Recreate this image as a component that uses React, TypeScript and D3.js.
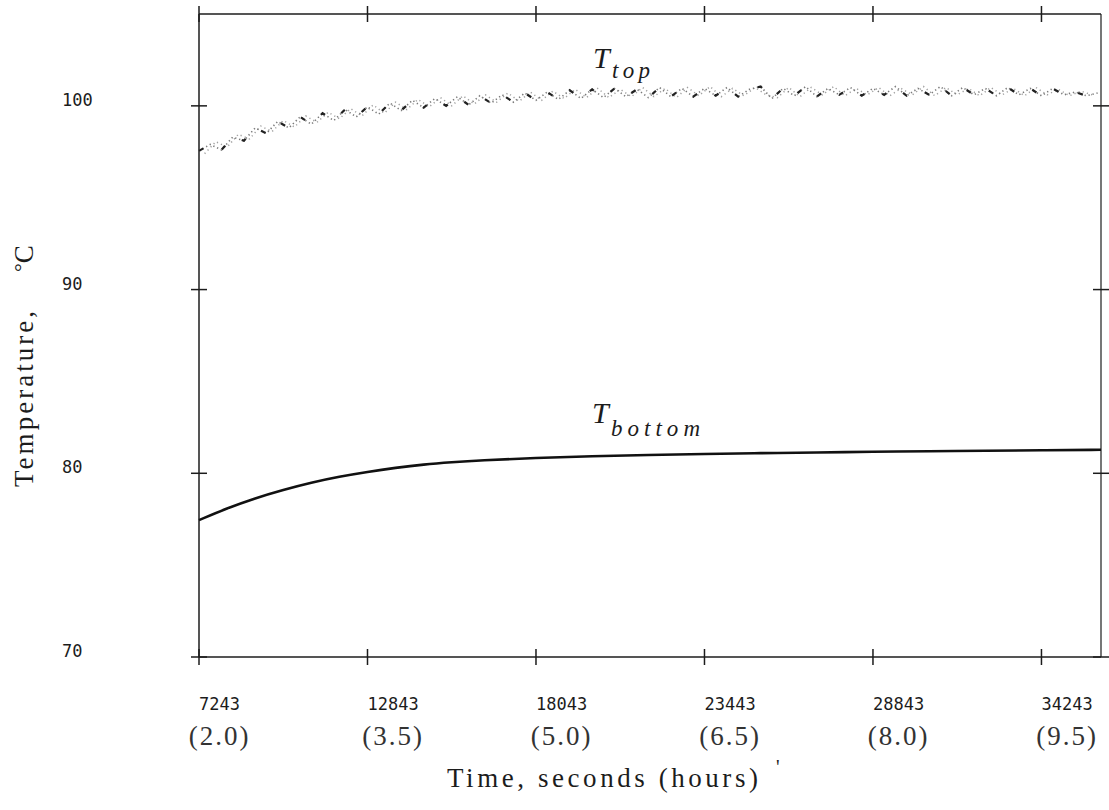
import React from "react";
import * as d3 from "d3";

// ---- data ----
const xTickHours = [2.0, 3.5, 5.0, 6.5, 8.0, 9.5];
const xTickSeconds = ["7243", "12843", "18043", "23443", "28843", "34243"];
const yTicks = [70, 80, 90, 100];

// T_bottom (hours, °C)
const bottomHours = [2.0, 2.25, 2.5, 2.75, 3.0, 3.25, 3.5, 3.75, 4.0, 4.25, 4.5, 5.0, 5.5, 6.0, 6.5, 7.0, 7.5, 8.0, 8.5, 9.0, 9.5, 10.03];
const bottomTemp = [77.45, 78.1, 78.65, 79.1, 79.5, 79.82, 80.08, 80.3, 80.48, 80.6, 80.7, 80.84, 80.93, 81.0, 81.05, 81.1, 81.13, 81.17, 81.2, 81.23, 81.25, 81.28];

// T_top, sensor trace A (every 0.1 h from 2.00 h)
const topTempA = [
  97.55, 97.9, 97.6, 98.3, 98.1, 98.8, 98.5, 99.15, 98.8, 99.4,
  99.0, 99.6, 99.2, 99.8, 99.4, 99.95, 99.55, 100.15, 99.75, 100.3,
  99.9, 100.4, 100.0, 100.5, 100.05, 100.55, 100.15, 100.6, 100.2, 100.7,
  100.3, 100.75, 100.35, 100.85, 100.4, 100.9, 100.45, 100.95, 100.5, 100.9,
  100.45, 101.0, 100.5, 100.95, 100.5, 100.95, 100.55, 101.0, 100.5, 100.9,
  101.05, 100.4, 100.95, 100.55, 101.05, 100.5, 100.95, 100.6, 101.0, 100.55,
  100.95, 100.6, 101.05, 100.55, 100.95, 100.6, 101.05, 100.55, 101.0, 100.6,
  100.95, 100.55, 101.0, 100.6, 100.95, 100.55, 100.95, 100.6, 100.75, 100.55,
  100.7,
];
// T_top, sensor trace B (every 0.1 h from 2.05 h)
const topTempB = [
  97.4, 98.05, 97.75, 98.45, 98.2, 98.9, 98.6, 99.2, 98.85, 99.45,
  99.1, 99.65, 99.3, 99.85, 99.45, 100.05, 99.6, 100.2, 99.8, 100.35,
  99.95, 100.45, 100.0, 100.55, 100.1, 100.6, 100.2, 100.7, 100.25, 100.75,
  100.3, 100.8, 100.4, 100.9, 100.45, 100.95, 100.45, 100.9, 100.5, 101.0,
  100.5, 100.95, 100.45, 101.0, 100.55, 101.05, 100.5, 100.95, 100.55, 101.0,
  100.6, 100.45, 101.0, 100.5, 101.0, 100.6, 101.05, 100.55, 100.95, 100.6,
  101.0, 100.55, 100.95, 100.6, 101.05, 100.55, 101.0, 100.6, 100.95, 100.55,
  101.0, 100.6, 100.95, 100.55, 101.0, 100.6, 100.9, 100.55, 100.8, 100.6,
];
const topHoursA = topTempA.map((_, i) => 2.0 + i * 0.1);
const topHoursB = topTempB.map((_, i) => 2.05 + i * 0.1);

export default function App() {
  const W = 1109, H = 810;
  const x = d3.scaleLinear().domain([2.0, 10.03]).range([199, 1101]);
  const y = d3.scaleLinear().domain([70, 105]).range([657, 14]);
  const [x0, x1] = x.range();
  const [y0, y1] = y.range();

  const bottomLine = d3
    .line<number>()
    .x((_, i) => x(bottomHours[i]))
    .y((d) => y(d))
    .curve(d3.curveBasis)(bottomTemp) as string;

  const topLineA = d3
    .line<number>()
    .x((_, i) => x(topHoursA[i]))
    .y((d) => y(d))(topTempA) as string;
  const topLineB = d3
    .line<number>()
    .x((_, i) => x(topHoursB[i]))
    .y((d) => y(d))(topTempB) as string;

  const ink = "#1c1c1c";
  const tk = 8;
  const mono = "'DejaVu Sans Mono', monospace";
  const serif = "'Liberation Serif', 'Times New Roman', serif";

  return (
    <svg
      width={W}
      height={H}
      style={{ position: "absolute", left: 0, top: 0, background: "#fff" }}
    >
      {/* frame */}
      <g stroke={ink} strokeWidth={1.5} fill="none">
        <line x1={x0} y1={y0} x2={x1} y2={y0} />
        <line x1={x0} y1={y1} x2={x1} y2={y1} />
        <line x1={x0} y1={y0} x2={x0} y2={y1} />
        <line x1={x1} y1={y0} x2={x1} y2={y1} strokeWidth={1.2} />
        {xTickHours.map((h) => (
          <g key={"xt" + h}>
            <line x1={x(h)} x2={x(h)} y1={y0 - tk} y2={y0 + tk} />
            <line x1={x(h)} x2={x(h)} y1={y1 - tk} y2={y1 + tk} />
          </g>
        ))}
        {yTicks.map((v) => (
          <g key={"yt" + v}>
            <line x1={x0 - tk} x2={x0 + tk} y1={y(v)} y2={y(v)} />
            <line x1={x1 - tk} x2={x1 + tk} y1={y(v)} y2={y(v)} />
          </g>
        ))}
      </g>

      {/* y tick labels */}
      {yTicks.map((v) => (
        <text key={"yl" + v} x={62} y={y(v)} fontFamily={mono} fontSize={17} fill={ink}>
          {v}
        </text>
      ))}

      {/* x tick labels: seconds and hours */}
      {xTickHours.map((h, i) => {
        const sec = xTickSeconds[i];
        const center = x(h) + (sec.length * 10.3) / 2;
        return (
          <g key={"xl" + h}>
            <text x={x(h)} y={710} fontFamily={mono} fontSize={17} fill={ink}>
              {sec}
            </text>
            <text
              x={center}
              y={745}
              textAnchor="middle"
              fontFamily={serif}
              fontSize={27}
              letterSpacing={2}
              fill="#333"
            >
              ({h.toFixed(1)})
            </text>
          </g>
        );
      })}

      {/* series */}
      <path d={bottomLine} fill="none" stroke="#111" strokeWidth={2.6} strokeLinejoin="round" />
      <path d={topLineB} fill="none" stroke="#a0a0a0" strokeWidth={1.5} strokeDasharray="1.2 3.2" />
      <path d={topLineA} fill="none" stroke="#7a7a7a" strokeWidth={1.6} strokeDasharray="1.3 2.8" />
      <path d={topLineA} fill="none" stroke="#222" strokeWidth={2.2} strokeDasharray="5 21" />

      {/* curve labels */}
      <text x={593} y={68} fontFamily={serif} fontStyle="italic" fontSize={30} fill={ink}>
        T
      </text>
      <text x={612} y={78} fontFamily={serif} fontStyle="italic" fontSize={23} fill={ink} textLength={38} lengthAdjust="spacing">
        top
      </text>
      <text x={592} y={423} fontFamily={serif} fontStyle="italic" fontSize={30} fill={ink}>
        T
      </text>
      <text x={611} y={436} fontFamily={serif} fontStyle="italic" fontSize={23} fill={ink} textLength={89} lengthAdjust="spacing">
        bottom
      </text>

      {/* axis titles */}
      <text x={447} y={787} fontFamily={serif} fontSize={27} fill={ink} textLength={311} lengthAdjust="spacing">
        Time, seconds (hours)
      </text>
      <text x={776} y={774} fontFamily={serif} fontSize={20} fill={ink}>
        '
      </text>
      <text transform="translate(33,487) rotate(-90)" fontFamily={serif} fontSize={27} fill={ink} textLength={176} lengthAdjust="spacing">
        Temperature,
      </text>
      <text transform="translate(33,272) rotate(-90)" fontFamily={serif} fontSize={27} fill={ink}>
        <tspan fontSize={22} dy={-4}>°</tspan>
        <tspan dy={4}>C</tspan>
      </text>
    </svg>
  );
}
